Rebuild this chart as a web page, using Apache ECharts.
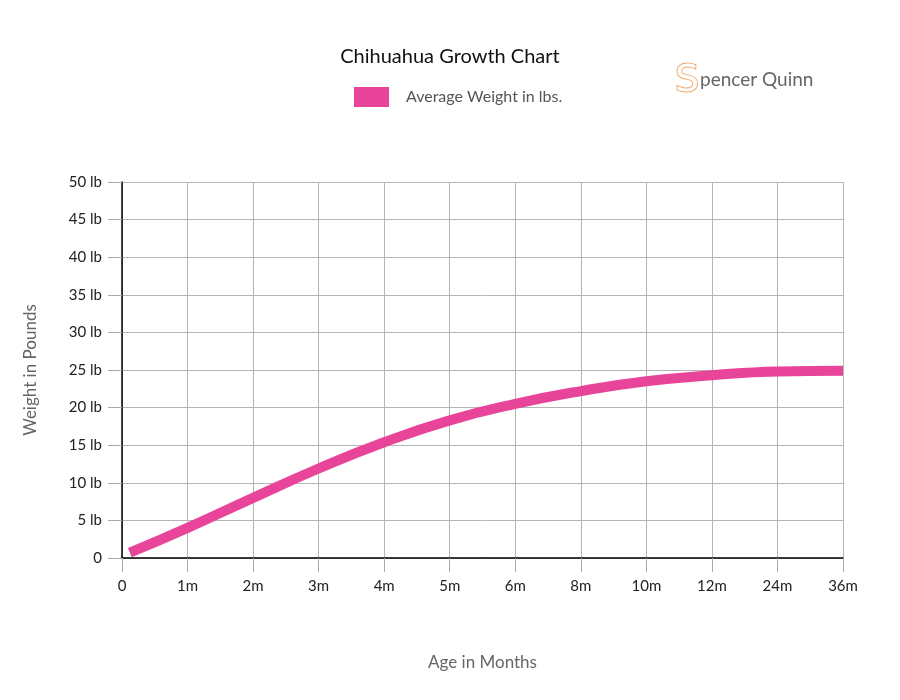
<!DOCTYPE html>
<html>
<head>
<meta charset="utf-8">
<script src="https://cdn.jsdelivr.net/npm/echarts@6/dist/echarts.min.js"></script>
<style>html,body{margin:0;padding:0;background:#fff}#c{width:900px;height:700px}</style>
</head>
<body>
<div id="c"></div>
<script>
const ageLabels = ['0','1m','2m','3m','4m','5m','6m','8m','10m','12m','24m','36m'];
const agePositions = [0.12, 1, 2, 3, 4, 5, 6, 7, 8, 9, 10, 11];
const avgWeight = [0.7, 4.0, 8.0, 11.9, 15.4, 18.3, 20.5, 22.2, 23.5, 24.3, 24.8, 24.9];
const yTicks = [0, 5, 10, 15, 20, 25, 30, 35, 40, 45, 50];

const FONT = 'Lato, "Open Sans", sans-serif';
const chart = echarts.init(document.getElementById('c'), null, {renderer: 'canvas'});
chart.setOption({
  backgroundColor: '#fff',
  animation: false,
  title: {
    text: 'Chihuahua Growth Chart',
    left: 'center', top: 42,
    textStyle: {fontFamily: FONT, fontSize: 20, fontWeight: 'normal', color: '#111'}
  },
  legend: {
    left: 354, top: 87, padding: 0,
    itemWidth: 35, itemHeight: 20,
    icon: 'rect',
    textStyle: {fontFamily: FONT, fontSize: 16, color: '#555', padding: [0, 0, 0, 12]},
    data: ['Average Weight in lbs.']
  },
  graphic: [
    {type: 'text', left: 674, top: 61, style: {text: 'S', font: '38px "DejaVu Sans", sans-serif', fill: '#fff', stroke: '#F0A05A', lineWidth: 1.8}},
    {type: 'text', left: 700, top: 70, style: {text: 'pencer Quinn', font: '19px ' + FONT, fill: '#666'}}
  ],
  grid: {left: 122, right: 57, top: 182, bottom: 142, containLabel: false},
  xAxis: {
    type: 'value', min: 0, max: 11, interval: 1,
    name: 'Age in Months', nameLocation: 'middle', nameGap: 96,
    nameTextStyle: {fontFamily: FONT, fontSize: 17, color: '#666'},
    axisLine: {show: true, lineStyle: {color: '#000', width: 1.5}},
    axisTick: {show: true, length: 14, lineStyle: {color: '#aaa'}},
    axisLabel: {fontFamily: FONT, fontSize: 15, color: '#222', margin: 21,
      formatter: v => ageLabels[Math.round(v)]},
    splitLine: {show: true, lineStyle: {color: '#b5b5b5', width: 1}}
  },
  yAxis: {
    type: 'value', min: 0, max: 50, interval: 5,
    name: 'Weight in Pounds', nameLocation: 'middle', nameGap: 83, nameRotate: 90,
    nameTextStyle: {fontFamily: FONT, fontSize: 17, color: '#666'},
    axisLine: {show: true, lineStyle: {color: '#000', width: 1.5}},
    axisTick: {show: true, length: 14, lineStyle: {color: '#aaa'}},
    axisLabel: {fontFamily: FONT, fontSize: 15, color: '#222', margin: 20,
      formatter: v => (yTicks.includes(v) && v !== 0) ? v + ' lb' : (v === 0 ? '0' : '')},
    splitLine: {show: true, lineStyle: {color: '#b5b5b5', width: 1}}
  },
  series: [{
    name: 'Average Weight in lbs.',
    type: 'line',
    smooth: true,
    showSymbol: false,
    symbol: 'none',
    color: '#E8459A',
    lineStyle: {color: '#E8459A', width: 10, cap: 'butt'},
    data: agePositions.map((x, i) => [x, avgWeight[i]])
  }]
});
</script>
</body>
</html>
